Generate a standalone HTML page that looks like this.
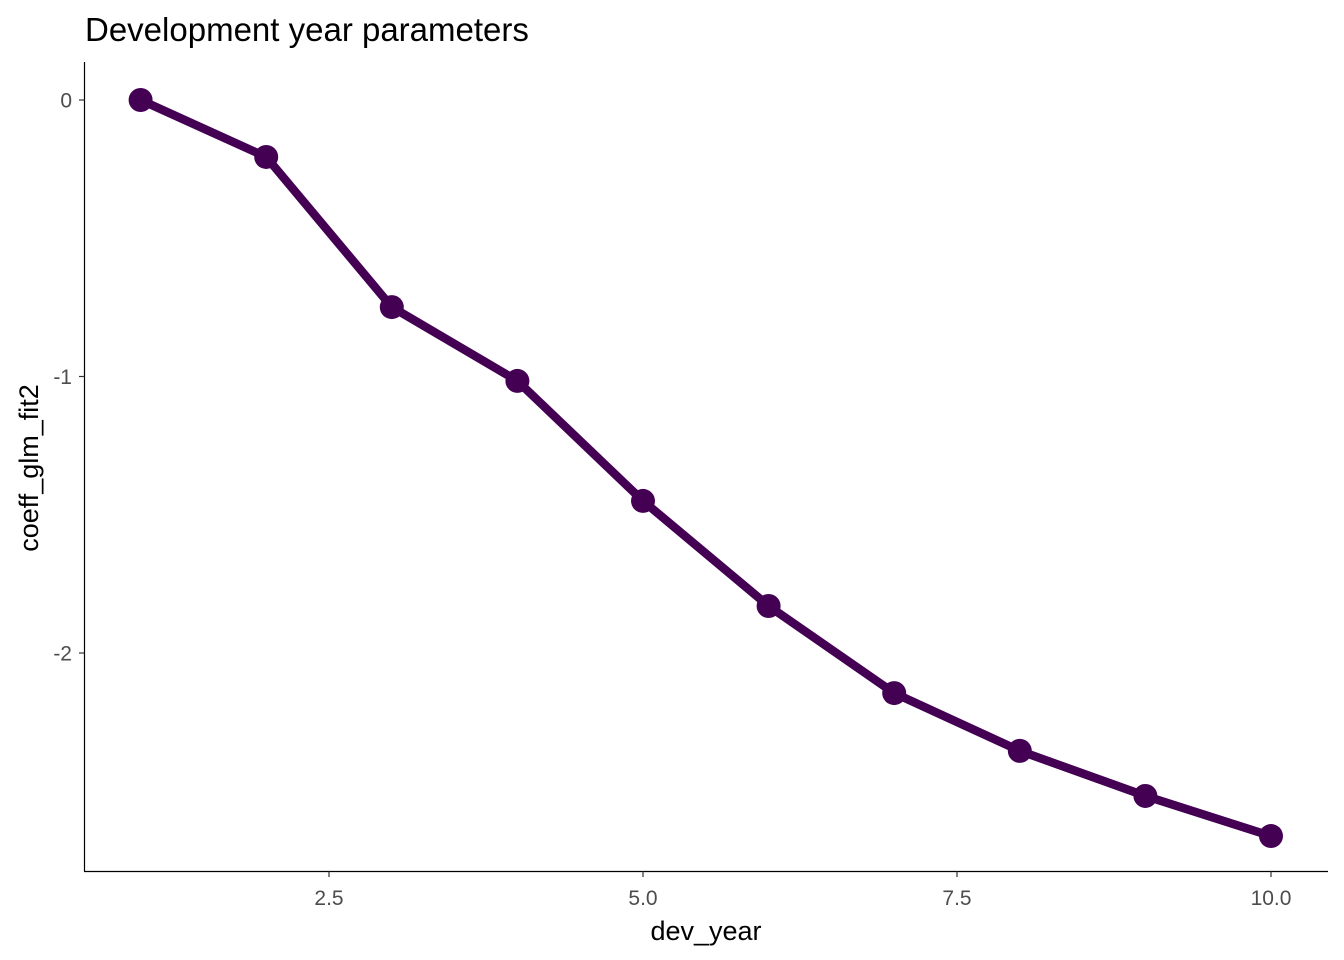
<!DOCTYPE html>
<html><head><meta charset="utf-8"><style>
html,body{margin:0;padding:0;background:#fff;}
svg{display:block;font-family:"Liberation Sans",Arial,sans-serif;}
</style></head><body>
<svg id="chart" width="1344" height="960" viewBox="0 0 1344 960">
<text x="85" y="41" font-size="33" fill="#000">Development year parameters</text>
<g id="axes"></g>
<g id="series"></g>
<text x="706" y="940" font-size="27" text-anchor="middle" fill="#000">dev_year</text>
<text transform="translate(38,468) rotate(-90)" font-size="27" text-anchor="middle" fill="#000">coeff_glm_fit2</text>
</svg>
<script>
const devYears=[1,2,3,4,5,6,7,8,9,10];
const coeffs=[0,-0.206,-0.749,-1.016,-1.45,-1.83,-2.145,-2.354,-2.517,-2.662];
const xTicks=[2.5,5.0,7.5,10.0];
const xTickLabels=["2.5","5.0","7.5","10.0"];
const yTicks=[0,-1,-2];
const yTickLabels=["0","-1","-2"];

const NS="http://www.w3.org/2000/svg";
function xs(v){return 140.6+(v-1)*125.6;}
function ys(v){return 100-v*276.5;}
function mk(tag,attrs,parent){const e=document.createElementNS(NS,tag);for(const k in attrs)e.setAttribute(k,attrs[k]);parent.appendChild(e);return e;}
const axes=document.getElementById('axes'),series=document.getElementById('series');

let a=mk('line',{x1:84.5,y1:62,x2:84.5,y2:871.5,stroke:'#000','stroke-width':1.2},axes);


a=mk('line',{x1:84,y1:871.5,x2:1328,y2:871.5,stroke:'#000','stroke-width':1.2},axes);



xTicks.forEach((t,i)=>{
  const x=xs(t);
  const l=mk('line',{x1:x,y1:871.5,x2:x,y2:877,stroke:'#333','stroke-width':1.2},axes);
  
  
  const tx=mk('text',{x:x,y:905,'font-size':21,'text-anchor':'middle',fill:'#4d4d4d'},axes);
  tx.textContent=xTickLabels[i];
  
  
});
yTicks.forEach((t,i)=>{
  const y=ys(t);
  const l=mk('line',{x1:79,y1:y,x2:84.5,y2:y,stroke:'#333','stroke-width':1.2},axes);
  
  
  const tx=mk('text',{x:72,y:y+7.5,'font-size':21,'text-anchor':'end',fill:'#4d4d4d'},axes);
  tx.textContent=yTickLabels[i];
  
  
});

const pts=devYears.map((d,i)=>xs(d)+','+ys(coeffs[i])).join(' ');
const pl=mk('polyline',{points:pts,fill:'none',stroke:'#440154','stroke-width':8.5,'stroke-linejoin':'round'},series);


devYears.forEach((d,i)=>{
  const c=mk('circle',{cx:xs(d),cy:ys(coeffs[i]),r:12,fill:'#440154'},series);
  
  
});
</script>
</body></html>
